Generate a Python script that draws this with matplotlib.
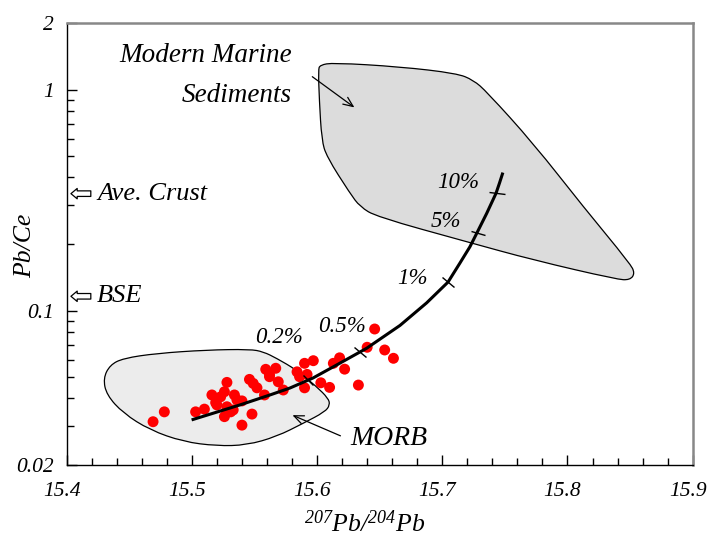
import matplotlib
matplotlib.use("Agg")
import numpy as np
import matplotlib.pyplot as plt
from matplotlib.markers import MarkerStyle
from matplotlib.transforms import Affine2D, ScaledTranslation
from matplotlib.patches import PathPatch
from matplotlib.path import Path
from matplotlib.ticker import FixedLocator, FixedFormatter, NullFormatter

plt.rcParams['font.family'] = ['Liberation Serif', 'DejaVu Serif']
plt.rcParams['font.style'] = 'italic'
plt.rcParams['mathtext.fontset'] = 'custom'
plt.rcParams['mathtext.rm'] = 'Liberation Serif:italic'
plt.rcParams['mathtext.it'] = 'Liberation Serif:italic'

# ---- data ----
sample_x = [15.469, 15.478, 15.503, 15.510, 15.516, 15.519, 15.523, 15.526, 15.528, 15.528,
            15.526, 15.531, 15.534, 15.536, 15.540, 15.540, 15.548, 15.546, 15.549, 15.552,
            15.559, 15.562, 15.567, 15.569, 15.573, 15.558, 15.584, 15.590, 15.597, 15.590,
            15.586, 15.603, 15.610, 15.613, 15.618, 15.622, 15.633, 15.640, 15.646, 15.654,
            15.661, 15.592, 15.562, 15.533, 15.528, 15.520]
sample_y = [0.0314, 0.0348, 0.0348, 0.0358, 0.0415, 0.0383, 0.0407, 0.0429, 0.0473, 0.0367,
            0.0331, 0.0348, 0.0415, 0.0394, 0.0390, 0.0303, 0.0340, 0.0488, 0.0468, 0.0447,
            0.0542, 0.0514, 0.0548, 0.0476, 0.0437, 0.0415, 0.0528, 0.0577, 0.0593, 0.0447,
            0.0502, 0.0471, 0.0449, 0.0577, 0.0611, 0.0543, 0.0460, 0.0682, 0.0825, 0.0663,
            0.0608, 0.0514, 0.0502, 0.0355, 0.0355, 0.0374]

mix_x = [15.4998, 15.5384, 15.5624, 15.5783, 15.5967, 15.6156, 15.6396, 15.6662, 15.6875,
         15.7046, 15.7141, 15.7221, 15.7275, 15.7355, 15.7429, 15.7457, 15.7484]
mix_y = [0.0320, 0.0374, 0.0415, 0.0446, 0.0495, 0.0567, 0.0675, 0.0856, 0.1083,
         0.1345, 0.1640, 0.1944, 0.2235, 0.2754, 0.339, 0.3774, 0.421]

mark_labels = ['10%', '5%', '1%', '0.5%', '0.2%']
mark_x = [15.7438, 15.7285, 15.7046, 15.6342, 15.5927]
mark_y = [0.340, 0.224, 0.1345, 0.0652, 0.0485]
mark_angle = [-4, -14, -38, -42, -45]
mark_lab_x = [15.7125, 15.703, 15.6758, 15.6199, 15.5697]
mark_lab_y = [0.378, 0.254, 0.139, 0.0851, 0.0759]

morb_x = [15.4292, 15.4346, 15.4452, 15.4719, 15.5118, 15.5464, 15.5570, 15.5677, 15.5837,
          15.5997, 15.6089, 15.6103, 15.6063, 15.5890, 15.5677, 15.5438, 15.5198, 15.4931,
          15.4665, 15.4452, 15.4319]
morb_y = [0.0493, 0.0567, 0.0608, 0.0640, 0.0663, 0.0668, 0.0651, 0.0608, 0.0538,
          0.0452, 0.0401, 0.0374, 0.0348, 0.0309, 0.0269, 0.0246, 0.0244, 0.0255,
          0.0288, 0.0343, 0.0415]

sed_x = [15.6023, 15.6129, 15.6662, 15.7115, 15.7248, 15.7355, 15.7727, 15.8126, 15.8499,
         15.8539, 15.8499, 15.8393, 15.7727, 15.7195, 15.6476, 15.6343, 15.6263, 15.6077,
         15.6037, 15.6018, 15.6010]
sed_y = [1.291, 1.322, 1.268, 1.184, 1.104, 0.977, 0.571, 0.295, 0.1635,
         0.1474, 0.1374, 0.1384, 0.1693, 0.2048, 0.2657, 0.2949, 0.3391, 0.4965,
         0.5907, 0.8964, 1.225]

ave_crust = 0.338
bse = 0.116

x_major = [15.4, 15.5, 15.6, 15.7, 15.8, 15.9]
x_major_labels = ['15.4', '15.5', '15.6', '15.7', '15.8', '15.9']
x_minor = [15.42, 15.44, 15.46, 15.48, 15.52, 15.54, 15.56, 15.58, 15.62, 15.64, 15.66,
           15.68, 15.72, 15.74, 15.76, 15.78, 15.82, 15.84, 15.86, 15.88]
y_major = [0.02, 0.1, 1, 2]
y_major_labels = ['0.02', '0.1', '1', '2']
y_minor = [0.03, 0.04, 0.05, 0.06, 0.07, 0.08, 0.09, 0.2, 0.3, 0.4, 0.5, 0.6, 0.7, 0.8, 0.9]


def smooth_closed_path(xs, ys):
    """Closed quadratic B-spline outline through edge midpoints (midpoints taken in log-y)."""
    n = len(xs)
    mids = []
    for i in range(n):
        j = (i + 1) % n
        mids.append(((xs[i] + xs[j]) / 2, np.sqrt(ys[i] * ys[j])))
    verts = [mids[-1]]
    codes = [Path.MOVETO]
    for i in range(n):
        verts += [(xs[i], ys[i]), mids[i]]
        codes += [Path.CURVE3, Path.CURVE3]
    verts.append(mids[-1])
    codes.append(Path.CLOSEPOLY)
    return Path(verts, codes)


# ---- figure ----
fig = plt.figure(figsize=(7.1, 5.44), dpi=100)
ax = fig.add_axes([0.0939, 0.1452, 0.8817, 0.8125])
ax.set_yscale('log')
ax.set_xlim(15.4, 15.9)
ax.set_ylim(0.02, 2)

ax.add_patch(PathPatch(smooth_closed_path(sed_x, sed_y), fc='#dcdcdc', ec='black',
                       lw=0.9, zorder=1))
ax.add_patch(PathPatch(smooth_closed_path(morb_x, morb_y), fc='#ececec', ec='black',
                       lw=0.9, zorder=1))

ax.scatter(sample_x, sample_y, s=62, color='#ff0000', edgecolors='none', zorder=3)
ax.plot(mix_x, mix_y, color='black', lw=2.2, zorder=4, solid_capstyle='butt',
        solid_joinstyle='round')

for mx, my, ang in zip(mark_x, mark_y, mark_angle):
    ms = MarkerStyle('_', transform=Affine2D().rotate_deg(ang))
    ax.plot([mx], [my], marker=ms, markersize=11, mew=1.0, color='black', zorder=5)
for lab, lx, ly in zip(mark_labels, mark_lab_x, mark_lab_y):
    ax.text(lx, ly, lab, fontsize=16.5, ha='center', va='center', zorder=6)

ax.text(15.58, 1.432, 'Modern Marine', fontsize=19.5, ha='right', va='center')
ax.text(15.58, 0.944, 'Sediments', fontsize=19.5, ha='right', va='center')
ax.annotate('', xy=(15.6316, 0.816), xytext=(15.5944, 1.163),
            arrowprops=dict(arrowstyle='->,head_length=0.7,head_width=0.3', lw=0.9, color='black'))

ax.text(15.6263, 0.0265, 'MORB', fontsize=20, ha='left', va='center')
ax.annotate('', xy=(15.5783, 0.0340), xytext=(15.6207, 0.0268),
            arrowprops=dict(arrowstyle='->,head_length=0.7,head_width=0.3', lw=0.9, color='black'))

for yv, lab in [(ave_crust, 'Ave. Crust'), (bse, 'BSE')]:
    ax.annotate('', xy=(15.4012, yv), xytext=(15.4215, yv),
                arrowprops=dict(arrowstyle='simple,head_length=0.45,head_width=0.75,tail_width=0.4',
                                fc='white', ec='black', lw=0.9))
    ax.text(15.4242, yv, lab, fontsize=19, ha='left', va='center')

# ticks
ax.xaxis.set_major_locator(FixedLocator(x_major))
ax.xaxis.set_major_formatter(FixedFormatter(x_major_labels))
ax.xaxis.set_minor_locator(FixedLocator(x_minor))
ax.xaxis.set_minor_formatter(NullFormatter())
ax.yaxis.set_major_locator(FixedLocator(y_major))
ax.yaxis.set_major_formatter(FixedFormatter(y_major_labels))
ax.yaxis.set_minor_locator(FixedLocator(y_minor))
ax.yaxis.set_minor_formatter(NullFormatter())
ax.tick_params(axis='both', which='major', direction='in', length=7, width=1, labelsize=15.5)
ax.tick_params(axis='both', which='minor', direction='in', length=5, width=1)
ax.tick_params(axis='x', which='major', pad=12)
ax.tick_params(axis='y', which='major', pad=9)
ax.tick_params(top=False, right=False, which='both')

shift = ScaledTranslation(-5 / 100, 0, fig.dpi_scale_trans)
for lbl in ax.get_xticklabels():
    lbl.set_transform(lbl.get_transform() + shift)

for s in ['left', 'bottom']:
    ax.spines[s].set_color('black')
    ax.spines[s].set_linewidth(1.0)
for s in ['top', 'right']:
    ax.spines[s].set_color('#888888')
    ax.spines[s].set_linewidth(1.8)

fig.text(25 / 710, 1 - 246 / 544, 'Pb/Ce', rotation=90, fontsize=18.5, ha='center', va='center')
fig.text(365 / 710, 1 - 524 / 544, r'$^{207}\mathrm{Pb}/^{204}\mathrm{Pb}$', fontsize=18.5,
         ha='center', va='center')

fig.savefig('out.png', dpi=100)
